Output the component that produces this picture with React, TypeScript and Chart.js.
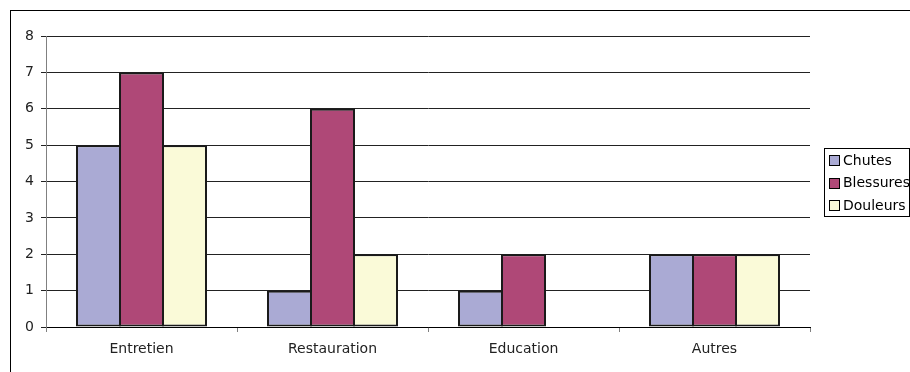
import React, { useEffect, useRef } from "react";
import { Chart, registerables } from "chart.js";

Chart.register(...registerables);

const categories = ["Entretien", "Restauration", "Education", "Autres"];
const seriesNames = ["Chutes", "Blessures", "Douleurs"];
const chutes = [5, 1, 1, 2];
const blessures = [7, 6, 2, 2];
const douleurs = [5, 2, 0, 2];
const seriesColors = ["#AAAAD4", "#AF4877", "#FAFAD8"];
const yTicks = [0, 1, 2, 3, 4, 5, 6, 7, 8];

const FONT = "'DejaVu Sans', Verdana, sans-serif";

const framePlugin = {
  id: "frame",
  beforeDraw(chart: any) {
    const ctx = chart.ctx;
    ctx.save();
    ctx.strokeStyle = "#000";
    ctx.lineWidth = 1;
    ctx.strokeRect(10.5, 10.5, 2000, 2000);
    ctx.restore();
  },
};

const legendPlugin = {
  id: "boxLegend",
  afterDraw(chart: any) {
    const ctx = chart.ctx;
    const x0 = 824.5, y0 = 148.5, w = 85, h = 68;
    ctx.save();
    ctx.fillStyle = "#fff";
    ctx.fillRect(x0, y0, w, h);
    ctx.strokeStyle = "#000";
    ctx.lineWidth = 1;
    ctx.strokeRect(x0, y0, w, h);
    ctx.font = `14px ${FONT}`;
    ctx.textBaseline = "middle";
    chart.data.datasets.forEach((ds: any, i: number) => {
      const cy = 160 + i * 22.5;
      const top = Math.round(cy - 5) + 0.5;
      ctx.fillStyle = ds.backgroundColor;
      ctx.fillRect(829.5, top, 10, 10);
      ctx.strokeStyle = "#000";
      ctx.strokeRect(829.5, top, 10, 10);
      ctx.fillStyle = "#000";
      ctx.fillText(ds.label, 843, cy + 1);
    });
    ctx.restore();
  },
};

export default function App() {
  const ref = useRef<HTMLCanvasElement>(null);
  useEffect(() => {
    if (!ref.current) return;
    const data = [chutes, blessures, douleurs];
    const chart = new Chart(ref.current, {
      type: "bar",
      data: {
        labels: categories,
        datasets: seriesNames.map((name, i) => ({
          label: name,
          data: data[i],
          backgroundColor: seriesColors[i],
          borderColor: "#1a1a1a",
          borderWidth: 2,
          borderSkipped: false,
          inflateAmount: 0,
          categoryPercentage: 129 / 191,
          barPercentage: 45 / 43,
        })),
      },
      options: {
        responsive: false,
        animation: false,
        devicePixelRatio: 1,
        layout: { padding: { left: 10, top: 36, right: 100, bottom: 0 } },
        plugins: {
          legend: { display: false },
          tooltip: { enabled: false },
        },
        scales: {
          x: {
            grid: {
              drawOnChartArea: false,
              drawTicks: true,
              tickLength: 5,
              color: "#808080",
            },
            border: { color: "#000", width: 1 },
            ticks: {
              color: "#222",
              font: { family: FONT, size: 14 },
              padding: 9,
              maxRotation: 0,
            },
            afterFit(scale: any) {
              scale.height = 45;
            },
          },
          y: {
            min: 0,
            max: 8,
            afterBuildTicks(scale: any) {
              scale.ticks = yTicks.map((v) => ({ value: v }));
            },
            grid: {
              color: "#222",
              drawTicks: true,
              tickLength: 5,
              lineWidth: 1,
            },
            border: { color: "#808080", width: 1 },
            ticks: {
              color: "#222",
              font: { family: FONT, size: 14 },
              padding: 7,
            },
            afterFit(scale: any) {
              scale.width = 36;
            },
          },
        },
      },
      plugins: [framePlugin, legendPlugin],
    });
    return () => chart.destroy();
  }, []);
  return (
    <div style={{ position: "fixed", left: 0, top: 0, width: 910, height: 372, background: "#fff" }}>
      <canvas ref={ref} width={910} height={372} style={{ width: 910, height: 372, display: "block" }} />
    </div>
  );
}
